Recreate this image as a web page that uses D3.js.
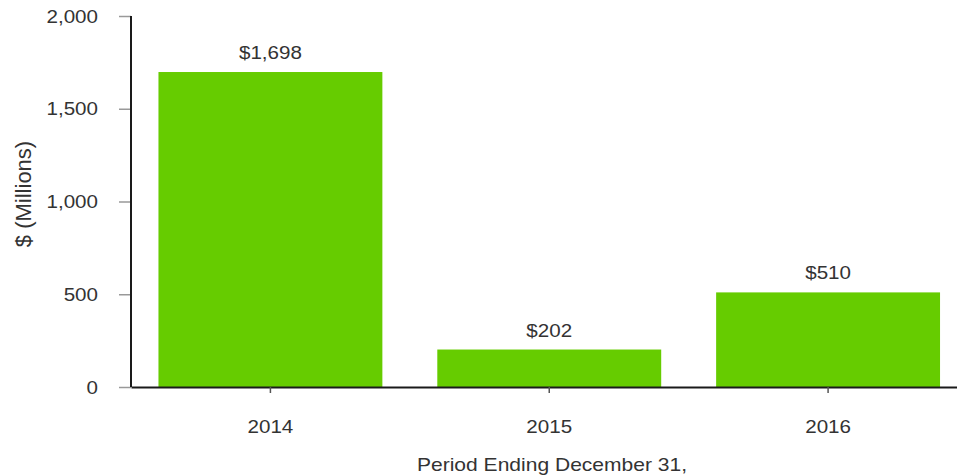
<!DOCTYPE html>
<html><head><meta charset="utf-8">
<script src="https://cdn.jsdelivr.net/npm/d3@7"></script>
<style>
html,body{margin:0;padding:0;background:#fff;}
svg text{font-family:"Liberation Sans",Arial,Helvetica,sans-serif;fill:#333;}
</style></head>
<body>
<svg id="chart" width="957" height="476"></svg>
<script>
const categories = ["2014", "2015", "2016"];
const values = [1698, 202, 510];
const valueLabels = ["$1,698", "$202", "$510"];
const yTicks = [0, 500, 1000, 1500, 2000];
const yTitle = "$ (Millions)";
const xTitle = "Period Ending December 31,";

const W = 957, H = 476;
const svg = d3.select("#chart");
const x0 = 131, x1 = 967.5, yTop = 16, yBot = 387;
const sx = 1.12;

const x = d3.scaleBand().domain(categories).range([x0, x1]).paddingInner(0.197).paddingOuter(0.0985);
const y = d3.scaleLinear().domain([0, 2000]).range([yBot, yTop]);

function stretchedText(g, tx, ty, txt, size, anchor) {
  return g.append("text")
    .attr("transform", `translate(${tx},${ty}) scale(${sx},1)`)
    .attr("text-anchor", anchor)
    .style("font-size", size + "px")
    .text(txt);
}

// bars
svg.append("g").selectAll("rect").data(categories).join("rect")
  .attr("x", d => x(d))
  .attr("width", x.bandwidth())
  .attr("y", (d, i) => y(values[i]))
  .attr("height", (d, i) => y(0) - y(values[i]))
  .attr("fill", "#66cc00");

// value labels
const lg = svg.append("g");
categories.forEach((c, i) => {
  stretchedText(lg, x(c) + x.bandwidth() / 2, y(values[i]) - 13, valueLabels[i], 18.4, "middle");
});

// y axis
const yAxis = d3.axisLeft(y).tickValues(yTicks).tickFormat(d3.format(",")).tickSize(12).tickPadding(0);
const yg = svg.append("g").attr("transform", `translate(${x0},0)`).call(yAxis);
yg.select(".domain").remove();
yg.selectAll(".tick line").attr("stroke", "#999").attr("stroke-width", 1.5);
yg.selectAll(".tick text").remove();
yTicks.forEach(t => {
  stretchedText(svg, 98, y(t) + 6.5, d3.format(",")(t), 18.4, "end");
});
svg.append("line").attr("x1", x0).attr("x2", x0).attr("y1", yTop).attr("y2", yBot)
  .attr("stroke", "#1a1a1a").attr("stroke-width", 2);

// x axis
const xAxis = d3.axisBottom(x).tickSize(6).tickSizeOuter(0);
const xg = svg.append("g").attr("transform", `translate(0,${yBot})`).call(xAxis);
xg.select(".domain").attr("stroke", "#1a1a1a").attr("stroke-width", 2);
xg.selectAll(".tick line").attr("stroke", "#555").attr("stroke-width", 1.5);
xg.selectAll(".tick text").remove();
categories.forEach(c => {
  stretchedText(svg, x(c) + x.bandwidth() / 2, 433, c, 18.4, "middle");
});

// titles
stretchedText(svg, 552, 471, xTitle, 18.8, "middle");
svg.append("text")
  .attr("transform", `translate(31,194) rotate(-90)`)
  .attr("text-anchor", "middle")
  .style("font-size", "22px")
  .text(yTitle);
</script>
</body></html>
